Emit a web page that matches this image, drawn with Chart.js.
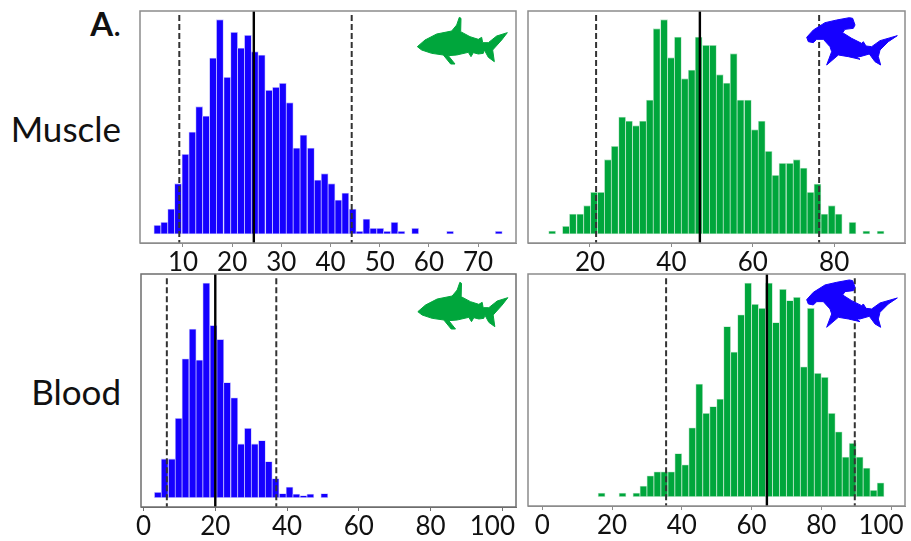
<!DOCTYPE html>
<html>
<head>
<meta charset="utf-8">
<title>Muscle and blood histograms</title>
<script src="https://cdn.jsdelivr.net/npm/chart.js@4"></script>
<style>
  body { margin: 0; background: #fff; width: 911px; height: 541px; overflow: hidden; position: relative; }
  canvas { position: absolute; }
  .lbl { position: absolute; font-family: Lato, sans-serif; color: #111; white-space: nowrap; line-height: 1; }
</style>
</head>
<body>
<div class="lbl" style="right:790px;top:7px;font-size:33px"><b>A</b>.</div>
<div class="lbl" style="right:790px;top:111px;font-size:35px">Muscle</div>
<div class="lbl" style="right:790px;top:374px;font-size:35px">Blood</div>
<canvas id="c1"></canvas>
<canvas id="c2"></canvas>
<canvas id="c3"></canvas>
<canvas id="c4"></canvas>
<script>
var BLUE = '#1500ff';
var BLUE_EDGE = '#c8c4ff';
var GREEN = '#00a63c';
var GREEN_EDGE = '#bce6ca';

// bin centres and bar heights (arbitrary frequency units)
var muscleTigerBins = [4.8, 6.2, 7.6, 9.0, 10.5, 11.9, 13.3, 14.7, 16.1, 17.5, 19.0, 20.4, 21.8, 23.2, 24.6, 26.0, 27.5, 28.9, 30.3, 31.7, 33.1, 34.5, 36.0, 37.4, 38.8, 40.2, 41.6, 43.0, 44.5, 45.9, 47.3, 48.7, 50.1, 51.5, 53.0, 54.4, 55.8, 57.2, 58.6, 60.0, 61.5, 62.9, 64.3, 65.7, 67.1, 68.5, 70.0, 71.4, 72.8, 74.2];
var muscleTigerFreq = [26, 35, 75, 151, 239, 306, 382, 354, 528, 643, 470, 605, 558, 596, 547, 537, 431, 440, 452, 394, 258, 297, 258, 162, 181, 151, 102, 123, 75, 8, 45, 17, 17, 8, 35, 8, null, 17, null, null, null, null, 8, null, null, null, null, null, null, 8];
var muscleTigerTicks = [10, 20, 30, 40, 50, 60, 70];
var muscleTigerLines = { mean: 24.4, low: 9.25, high: 44.3 };

var muscleHammerBins = [10.7, 12.4, 14.1, 15.8, 17.6, 19.3, 21.0, 22.7, 24.4, 26.1, 27.9, 29.6, 31.3, 33.0, 34.7, 36.4, 38.2, 39.9, 41.6, 43.3, 45.0, 46.7, 48.5, 50.2, 51.9, 53.6, 55.3, 57.0, 58.8, 60.5, 62.2, 63.9, 65.6, 67.3, 69.1, 70.8, 72.5, 74.2, 75.9, 77.6, 79.4, 81.1, 82.8, 84.5, 86.2, 87.9, 89.7, 91.4];
var muscleHammerFreq = [9, null, 23, 60, 60, 85, 125, 125, 223, 263, 351, 339, 325, 339, 402, 616, 643, 529, 591, 466, 492, 591, 566, 566, 478, 453, 541, 402, 402, 313, 339, 248, 176, 212, 212, 223, 198, 125, 150, 60, 85, 60, null, 35, null, 9, null, 9];
var muscleHammerTicks = [20, 40, 60, 80];
var muscleHammerLines = { mean: 47.0, low: 21.5, high: 76.3 };

var bloodTigerBins = [4.0, 5.9, 7.9, 9.8, 11.7, 13.7, 15.6, 17.5, 19.5, 21.4, 23.3, 25.3, 27.2, 29.1, 31.0, 33.0, 34.9, 36.8, 38.8, 40.7, 42.6, 44.6, 46.5, 48.4, 50.4];
var bloodTigerFreq = [16, 116, 116, 238, 416, 505, 412, 643, 516, 474, 345, 299, 161, 208, 161, 171, 108, 57, 12, 32, 11, 6, 11, null, 12];
var bloodTigerTicks = [0, 20, 40, 60, 80, 100];
var bloodTigerLines = { mean: 20.0, low: 6.5, high: 37.0 };

var bloodHammerBins = [17, 19, 21, 23, 25, 27, 29, 31, 33, 35, 37, 39, 41, 43, 45, 47, 49, 51, 53, 55, 57, 59, 61, 63, 65, 67, 69, 71, 73, 75, 77, 79, 81, 83, 85, 87, 89, 91, 93, 95, 97];
var bloodHammerFreq = [11, null, null, 11, null, 11, 32, 63, 75, 75, 75, 130, 96, 207, 339, 251, 271, 294, 512, 435, 547, 643, 579, 567, 643, 524, 624, 590, 600, 391, 567, 371, 359, 251, 195, 119, 161, 119, 86, 19, 42];
var bloodHammerTicks = [0, 20, 40, 60, 80, 100];
var bloodHammerLines = { mean: 64.4, low: 35.5, high: 89.6 };

// silhouettes, outline traced at 3x from the picture
var sharkOutline = [[352,140],[375,120],[410,102],[455,93],[470,75],[478,52],[483,55],[482,95],[510,110],[535,118],[545,112],[548,128],[565,128],[590,108],[622,98],[605,120],[578,150],[583,185],[565,172],[553,150],[550,160],[535,162],[520,158],[513,170],[505,157],[470,165],[445,167],[465,192],[452,192],[430,165],[395,160],[365,150]];
var hammerOutline = [[290,112],[310,90],[345,68],[380,60],[418,53],[428,55],[435,75],[430,85],[405,88],[398,98],[425,115],[455,130],[460,125],[468,138],[485,140],[510,122],[562,107],[535,125],[510,150],[505,170],[512,195],[495,185],[478,162],[450,170],[440,170],[450,178],[415,170],[385,165],[350,195],[365,155],[360,140],[340,118],[320,118],[310,128],[295,125]];

var PAD = 30;

var framePlugin = {
    id: 'frame',
    afterDraw: function (chart, args, opts) {
        var a = chart.chartArea, ctx = chart.ctx;
        ctx.save();
        ctx.strokeStyle = opts.frame;
        ctx.lineWidth = 1.5;
        ctx.strokeRect(a.left, a.top, a.right - a.left, a.bottom - a.top);
        // icon on top of everything
        ctx.fillStyle = opts.color;
        ctx.strokeStyle = opts.color;
        ctx.lineWidth = 1;
        ctx.lineJoin = 'round';
        ctx.beginPath();
        opts.outline.forEach(function (p, i) {
            var x = opts.ox + p[0] / 3 - opts.left, y = opts.oy + p[1] / 3 - opts.top;
            if (i === 0) ctx.moveTo(x, y); else ctx.lineTo(x, y);
        });
        ctx.closePath();
        ctx.fill();
        ctx.stroke();
        ctx.restore();
    }
};

function histogram(id, box, xr, yr, bins, freq, ticks, lines, color, edge, icon, frame) {
    var cv = document.getElementById(id);
    var left = box[0] - PAD, top = box[1] - 4;
    cv.style.left = left + 'px';
    cv.style.top = top + 'px';
    cv.width = box[2] - box[0] + PAD * 2;
    cv.height = box[3] - box[1] + 4 + 36;

    function vline(x, dashed) {
        return {
            type: 'line',
            data: [{ x: x, y: dashed ? yr[2] : yr[0] }, { x: x, y: yr[3] }],
            borderColor: dashed ? '#333' : '#000',
            borderWidth: dashed ? 2 : 2.4,
            borderDash: dashed ? [6, 3] : [],
            pointRadius: 0,
            order: 1
        };
    }

    return new Chart(cv, {
        type: 'bar',
        data: {
            datasets: [{
                data: bins.map(function (b, i) { return { x: b, y: freq[i] }; }),
                backgroundColor: color,
                borderColor: edge,
                borderWidth: 0.8,
                borderSkipped: false,
                barThickness: 7,
                order: 2
            }, vline(lines.mean, false), vline(lines.low, true), vline(lines.high, true)]
        },
        options: {
            responsive: false,
            animation: false,
            layout: { padding: { left: PAD, right: PAD, top: 4, bottom: 0 } },
            plugins: {
                legend: { display: false },
                tooltip: { enabled: false },
                frame: { outline: icon.outline, color: icon.color, ox: icon.ox, oy: icon.oy, left: left, top: top, frame: frame }
            },
            scales: {
                x: {
                    type: 'linear',
                    offset: false,
                    min: xr[0],
                    max: xr[1],
                    afterBuildTicks: function (s) {
                        s.ticks = ticks.map(function (v) { return { value: v }; });
                    },
                    afterFit: function (s) { s.height = 36; },
                    grid: { offset: false, drawOnChartArea: false, tickLength: 4, color: frame },
                    border: { color: frame, width: 1 },
                    ticks: {
                        autoSkip: false,
                        maxRotation: 0,
                        padding: 0,
                        color: '#111',
                        font: { family: 'Lato', size: 26 },
                        // the 100 sits a little left of its tick in the picture
                        callback: function (v) { return v === 100 ? '100   ' : String(v); }
                    }
                },
                y: { display: false, min: yr[3], max: yr[0] }
            }
        },
        plugins: [framePlugin]
    });
}

histogram('c1', [140, 11, 516, 243], [1.26, 77.7], [669, 0, 657, -27], muscleTigerBins, muscleTigerFreq, muscleTigerTicks, muscleTigerLines, BLUE, BLUE_EDGE,
    { outline: sharkOutline, color: GREEN, ox: 300, oy: 0 }, '#8c8c8c');
histogram('c2', [528, 11, 905, 243], [4.77, 97.4], [669, 0, 657, -27], muscleHammerBins, muscleHammerFreq, muscleHammerTicks, muscleHammerLines, GREEN, GREEN_EDGE,
    { outline: hammerOutline, color: BLUE, ox: 710, oy: 0 }, '#8c8c8c');
histogram('c3', [140.5, 274, 516, 507], [-0.7, 103.8], [670, 0, 657, -28], bloodTigerBins, bloodTigerFreq, bloodTigerTicks, bloodTigerLines, BLUE, BLUE_EDGE,
    { outline: sharkOutline, color: GREEN, ox: 300, oy: 265 }, '#6e6e6e');
histogram('c4', [528, 274, 905, 506], [-4.1, 104], [670, 0, 657, -28], bloodHammerBins, bloodHammerFreq, bloodHammerTicks, bloodHammerLines, GREEN, GREEN_EDGE,
    { outline: hammerOutline, color: BLUE, ox: 710, oy: 262.3 }, '#8c8c8c');
</script>
</body>
</html>
